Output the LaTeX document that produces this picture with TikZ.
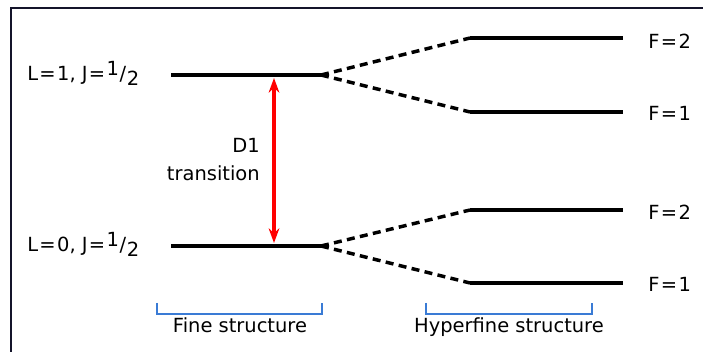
\documentclass[tikz,border=0pt]{standalone}
\usepackage{fontspec}
\setmainfont{DejaVu Sans}
\usetikzlibrary{arrows.meta}
\definecolor{frame}{HTML}{14142A}
\definecolor{brk}{HTML}{3A7BD5}
\newcommand{\eqs}{\kern0.07em=\kern0.07em}
\newcommand{\half}{\raisebox{4.4pt}{1}\kern0.5pt/\kern0.5pt\raisebox{-3.6pt}{2}}
\begin{document}
\begin{tikzpicture}[x=0.75pt,y=-0.75pt,
  txt/.style={inner sep=0pt,font=\fontsize{14.6}{21}\selectfont},
  level/.style={line width=3.2pt,black},
  split/.style={line width=2.6pt,black,dash pattern=on 6pt off 4pt},
  bracket/.style={line width=1.3pt,brk},
  trans/.style={line width=2.3pt,red,{Stealth[length=11pt,width=8pt]}-{Stealth[length=11pt,width=8pt]}}]
\useasboundingbox (0,0) rectangle (703,352);
% frame (top and left)
\draw[frame,line width=1.6pt] (11,352) -- (11,8) -- (703,8);
% fine structure levels
\coordinate (u1) at (171,75); \coordinate (u2) at (321,75);
\coordinate (l1) at (171,246); \coordinate (l2) at (321,246);
\draw[level] (u1) -- (u2);
\draw[level] (l1) -- (l2);
% hyperfine levels
\coordinate (a1) at (470,38);  \coordinate (a2) at (623,38);
\coordinate (b1) at (470,112); \coordinate (b2) at (623,112);
\coordinate (c1) at (470,210); \coordinate (c2) at (623,210);
\coordinate (d1) at (470,283); \coordinate (d2) at (623,283);
\draw[level] (a1) -- (a2);
\draw[level] (b1) -- (b2);
\draw[level] (c1) -- (c2);
\draw[level] (d1) -- (d2);
% splitting
\draw[split] (u2) -- (a1);
\draw[split] (u2) -- (b1);
\draw[split] (l2) -- (c1);
\draw[split] (l2) -- (d1);
% transition
\coordinate (t1) at (274,78); \coordinate (t2) at (274,243);
\draw[trans] (t1) -- (t2);
\node[txt,anchor=east,align=right] (d1lab) at (260,160) {D1\\transition};
% labels
\node[txt,anchor=base west] (ul) at (27,81) {L\eqs 1, J\eqs\half};
\node[txt,anchor=base west] (ll) at (27,252) {L\eqs 0, J\eqs\half};
\node[txt,anchor=base west] (fa) at (648,49) {F\eqs 2};
\node[txt,anchor=base west] (fb) at (648,121) {F\eqs 1};
\node[txt,anchor=base west] (fc) at (648,220) {F\eqs 2};
\node[txt,anchor=base west] (fd) at (648,292) {F\eqs 1};
% brackets
\draw[bracket] (157,303) -- (157,314) -- (322,314) -- (322,303);
\draw[bracket] (426,303) -- (426,314) -- (592,314) -- (592,303);
\node[txt,anchor=base] (fs) at (240,333) {Fine structure};
\node[txt,anchor=base] (hs) at (509,333) {Hyperfine structure};
\end{tikzpicture}
\end{document}
